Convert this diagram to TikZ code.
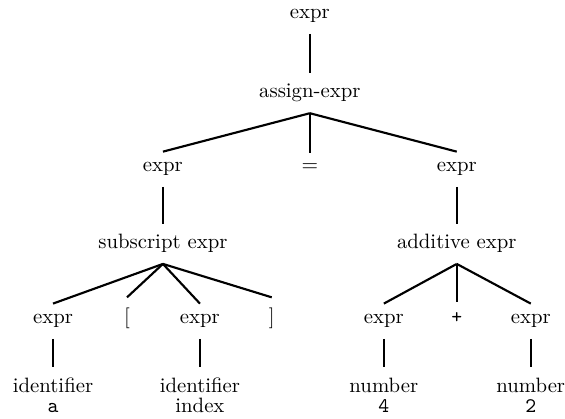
\documentclass[tikz,border=0pt]{standalone}
\begin{document}
\begin{tikzpicture}[
    every node/.style={anchor=base, inner xsep=2pt, inner ysep=5.1pt,
      font=\fontsize{10.7pt}{13pt}\selectfont},
    leaf/.style={align=center},
    line width=1.1pt
  ]
  \useasboundingbox (0,0) rectangle (10.23,-7.57);
  % inner nodes, one row per level
  \node (top) at (5.61,-0.344) {expr};
  \node (asg) at (5.61,-1.774) {assign-expr};
  \node (lhs) at (2.95,-3.113) {expr};
  \node (eq)  at (5.61,-3.113) {$=$};
  \node (rhs) at (8.27,-3.113) {expr};
  \node (sub) at (2.95,-4.507) {subscript expr};
  \node (add) at (8.27,-4.507) {additive expr};
  \node (base) at (0.96,-5.864) {expr};
  \node (lb)  at (2.30,-5.864) {[};
  \node (idx) at (3.62,-5.864) {expr};
  \node (rb)  at (4.92,-5.864) {]};
  \node (left) at (6.95,-5.864) {expr};
  \node (plus) at (8.27,-5.864) {\texttt{+}};
  \node (right) at (9.61,-5.864) {expr};
  % leaves (placed by the baseline of their second line)
  \node[leaf] (ida) at (0.96,-7.475) {identifier\\[-2.7pt]\texttt{a}};
  \node[leaf] (idi) at (3.62,-7.475) {identifier\\[-2.7pt]index};
  \node[leaf] (n4)  at (6.95,-7.475) {number\\[-2.7pt]\texttt{4}};
  \node[leaf] (n2)  at (9.61,-7.475) {number\\[-2.7pt]\texttt{2}};
  \draw (top.south) -- (asg.north);
  \draw (asg.south) -- (lhs.north);
  \draw (asg.south) -- (eq.north);
  \draw (asg.south) -- (rhs.north);
  \draw (lhs.south) -- (sub.north);
  \draw (rhs.south) -- (add.north);
  \draw (sub.south) -- (base.north);
  \draw (sub.south) -- (lb.north);
  \draw (sub.south) -- (idx.north);
  \draw (sub.south) -- (rb.north);
  \draw (add.south) -- (left.north);
  \draw (add.south) -- (plus.north);
  \draw (add.south) -- (right.north);
  \draw (base.south) -- (ida.north);
  \draw (idx.south) -- (idi.north);
  \draw (left.south) -- (n4.north);
  \draw (right.south) -- (n2.north);
\end{tikzpicture}
\end{document}
